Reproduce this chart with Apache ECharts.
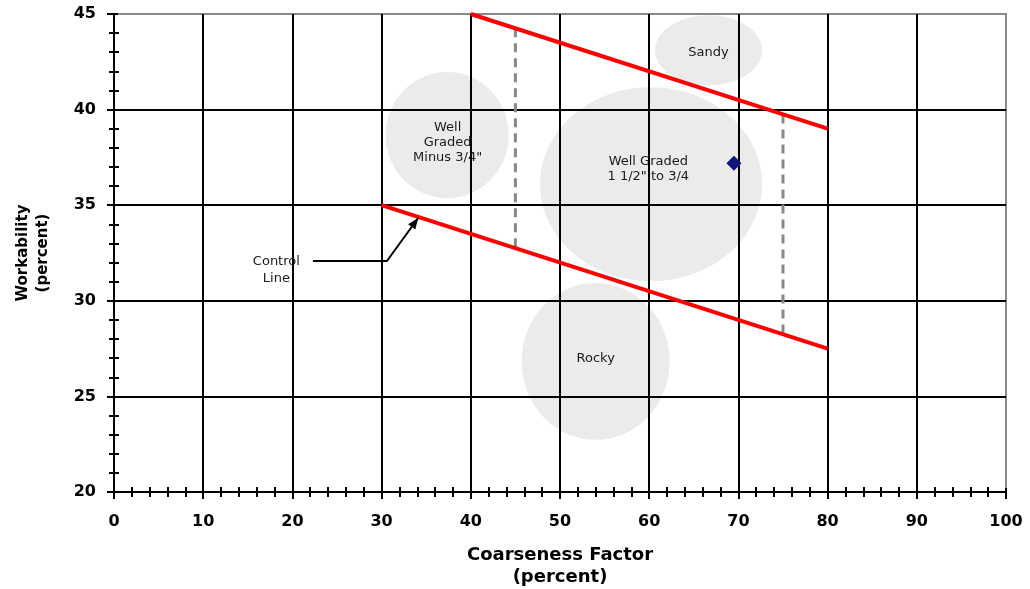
<!DOCTYPE html>
<html>
<head>
<meta charset="utf-8">
<script src="https://cdn.jsdelivr.net/npm/echarts@6/dist/echarts.min.js"></script>
<style>
  html, body { margin: 0; padding: 0; background: #fff; }
  #chart { width: 1030px; height: 589px; }
</style>
</head>
<body>
<div id="chart"></div>
<script>
// Workability vs. coarseness factor chart data
const upperBound = [[40, 45], [80, 39]];
const lowerBound = [[30, 35], [80, 27.5]];
const leftLimit = [[45, 44.25], [45, 32.75]];
const rightLimit = [[75, 39.75], [75, 28.25]];
const mixPoint = [[69.5, 37.2]];

const zoneNames = ['Sandy', 'Well\nGraded\nMinus 3/4"', 'Well Graded\n1 1/2" to 3/4', 'Rocky'];
const zoneCenters = [[66.65, 43.1], [37.35, 38.67], [60.2, 36.1], [54.0, 26.83]];
const zoneRadii = [[6.0, 1.83], [6.9, 3.3], [12.44, 5.07], [8.3, 4.1]];
const zoneLabelAt = [[66.65, 42.96], [37.4, 38.25], [59.9, 36.9], [54.0, 26.96]];

const controlPointer = [[22.3, 32.08], [30.6, 32.08], [34.1, 34.33]];
const controlText = 'Control\nLine';
const controlTextAt = [18.2, 31.6];

const xRange = [0, 100, 10];
const yRange = [20, 45, 5];

const FONT = '"DejaVu Sans", "Liberation Sans", Arial, sans-serif';

const zoneData = zoneCenters.map((c, i) => [c[0], c[1], zoneRadii[i][0], zoneRadii[i][1], zoneLabelAt[i][0], zoneLabelAt[i][1]]);
const tipFrom = controlPointer[controlPointer.length - 2];
const tipTo = controlPointer[controlPointer.length - 1];

const chart = echarts.init(document.getElementById('chart'), null, { renderer: 'canvas' });

const gridBox = { left: 114, right: 24, top: 14, bottom: 97, containLabel: false, outerBoundsMode: 'none' };

const mainAxisX = {
  type: 'value', gridIndex: 0, min: xRange[0], max: xRange[1], interval: xRange[2],
  name: 'Coarseness Factor\n(percent)', nameLocation: 'middle', nameGap: 52,
  nameTextStyle: { fontFamily: FONT, fontWeight: 'bold', fontSize: 18, color: '#000', lineHeight: 22 },
  axisLine: { show: true, onZero: false, lineStyle: { color: '#000', width: 2 } },
  axisTick: { show: true, length: 7, lineStyle: { color: '#000', width: 2 } },
  minorTick: { show: true, splitNumber: 5, length: 5, lineStyle: { color: '#000', width: 2 } },
  axisLabel: { fontFamily: FONT, fontWeight: 'bold', fontSize: 16, color: '#000', margin: 22 },
  splitLine: { show: true, showMinLine: false, showMaxLine: false, lineStyle: { color: '#000', width: 2 } }
};
const mainAxisY = {
  type: 'value', gridIndex: 0, min: yRange[0], max: yRange[1], interval: yRange[2],
  name: 'Workability\n(percent)', nameLocation: 'middle', nameGap: 61, nameRotate: 90,
  nameTextStyle: { fontFamily: FONT, fontWeight: 'bold', fontSize: 15, color: '#000', lineHeight: 20 },
  axisLine: { show: true, onZero: false, lineStyle: { color: '#000', width: 2 } },
  axisTick: { show: true, length: 7, lineStyle: { color: '#000', width: 2 } },
  minorTick: { show: true, splitNumber: 5, length: 5, lineStyle: { color: '#000', width: 2 } },
  axisLabel: { fontFamily: FONT, fontWeight: 'bold', fontSize: 16, color: '#000', margin: 18 },
  splitLine: { show: true, showMinLine: false, showMaxLine: false, lineStyle: { color: '#000', width: 2 } }
};
// Second grid on top of the first: only carries the inward half of the tick marks
const innerTicks = (range) => ({
  type: 'value', gridIndex: 1, min: range[0], max: range[1], interval: range[2],
  axisLine: { show: false, onZero: false },
  axisTick: { show: true, inside: true, length: 4, lineStyle: { color: '#000', width: 2 } },
  minorTick: { show: true, splitNumber: 5, length: 5, lineStyle: { color: '#000', width: 2 } },
  axisLabel: { show: false },
  splitLine: { show: false }
});

chart.setOption({
  animation: false,
  backgroundColor: '#fff',
  grid: [
    Object.assign({ show: true, borderColor: '#888', borderWidth: 2, backgroundColor: 'transparent' }, gridBox),
    Object.assign({ show: false }, gridBox)
  ],
  xAxis: [mainAxisX, innerTicks(xRange)],
  yAxis: [mainAxisY, innerTicks(yRange)],
  series: [
    {
      name: 'Zones', type: 'custom', xAxisIndex: 0, yAxisIndex: 0, z: -1, silent: true,
      data: zoneData,
      renderItem: function (params, api) {
        const c = api.coord([api.value(0), api.value(1)]);
        const s = api.size([api.value(2), api.value(3)]);
        const l = api.coord([api.value(4), api.value(5)]);
        return {
          type: 'group',
          children: [
            { type: 'ellipse', shape: { cx: c[0], cy: c[1], rx: s[0], ry: s[1] }, style: { fill: '#ebebeb' } },
            { type: 'text', x: l[0], y: l[1], style: {
                text: zoneNames[params.dataIndex], font: '13px ' + FONT, fill: '#1a1a1a',
                align: 'center', verticalAlign: 'middle', lineHeight: 15 } }
          ]
        };
      }
    },
    {
      name: 'Control label', type: 'custom', xAxisIndex: 0, yAxisIndex: 0, z: -1, silent: true,
      data: [controlTextAt],
      renderItem: function (params, api) {
        const p = api.coord([api.value(0), api.value(1)]);
        return { type: 'text', x: p[0], y: p[1], style: {
          text: controlText, font: '13px ' + FONT, fill: '#1a1a1a',
          align: 'center', verticalAlign: 'middle', lineHeight: 17 } };
      }
    },
    {
      name: 'Upper bound', type: 'line', data: upperBound, showSymbol: false, silent: true,
      lineStyle: { color: '#ff0000', width: 4 }, z: 3
    },
    {
      name: 'Lower bound', type: 'line', data: lowerBound, showSymbol: false, silent: true,
      lineStyle: { color: '#ff0000', width: 4 }, z: 3
    },
    {
      name: 'Left limit', type: 'line', data: leftLimit, showSymbol: false, silent: true,
      lineStyle: { color: '#888', width: 3, type: [9, 6] }, z: 2
    },
    {
      name: 'Right limit', type: 'line', data: rightLimit, showSymbol: false, silent: true,
      lineStyle: { color: '#888', width: 3, type: [9, 6] }, z: 2
    },
    {
      name: 'Control pointer', type: 'line', data: controlPointer, showSymbol: false, silent: true,
      lineStyle: { color: '#000', width: 2 }, z: 4
    },
    {
      name: 'Pointer head', type: 'custom', z: 4, silent: true,
      data: [[tipFrom[0], tipFrom[1], tipTo[0], tipTo[1]]],
      renderItem: function (params, api) {
        const a = api.coord([api.value(0), api.value(1)]);
        const b = api.coord([api.value(2), api.value(3)]);
        const ang = Math.atan2(b[1] - a[1], b[0] - a[0]);
        const len = 11, half = 4.5;
        const bx = b[0] - len * Math.cos(ang), by = b[1] - len * Math.sin(ang);
        const nx = -Math.sin(ang) * half, ny = Math.cos(ang) * half;
        return { type: 'polygon', shape: { points: [[b[0], b[1]], [bx + nx, by + ny], [bx - nx, by - ny]] },
                 style: { fill: '#000' } };
      }
    },
    {
      name: 'Mix', type: 'scatter', data: mixPoint, symbol: 'diamond', symbolSize: 15, silent: true,
      itemStyle: { color: '#141480', opacity: 1 }, z: 5
    }
  ]
});
</script>
</body>
</html>
